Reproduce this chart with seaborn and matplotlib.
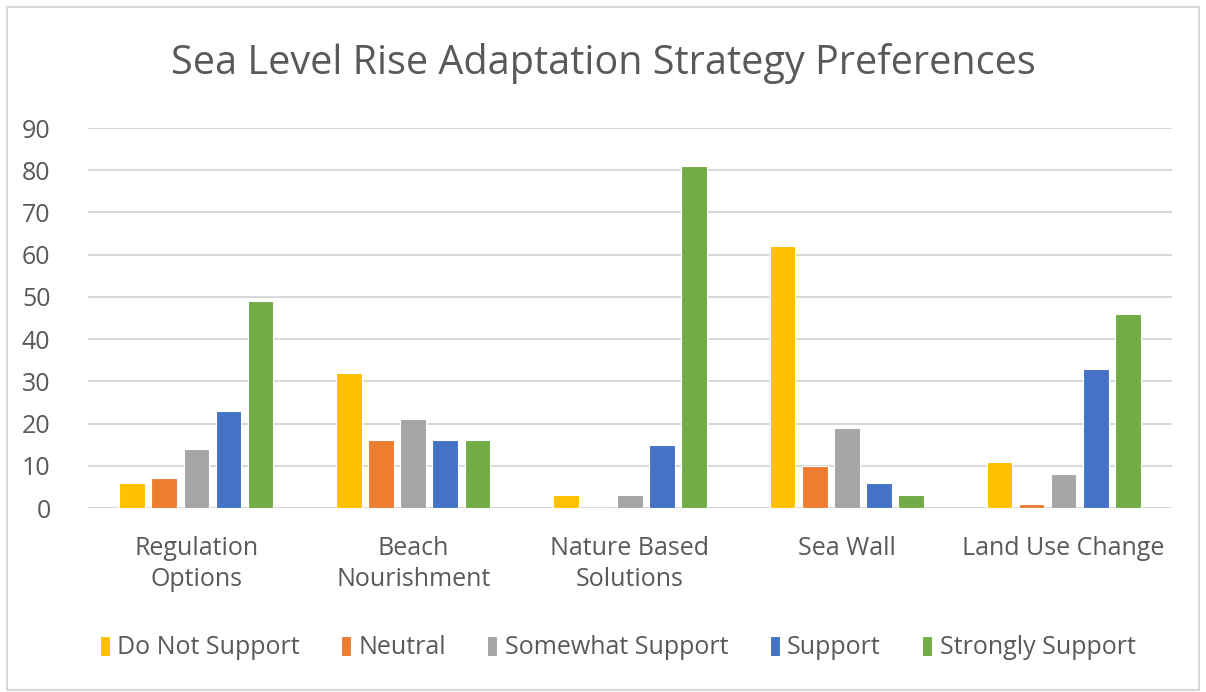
import matplotlib
matplotlib.use("Agg")
import numpy as np
import pandas as pd
import matplotlib.pyplot as plt
import seaborn as sns
from matplotlib.patches import Rectangle

# data
categories = ["Regulation\nOptions", "Beach\nNourishment", "Nature Based\nSolutions",
              "Sea Wall", "Land Use Change"]
responses = ["Do Not Support", "Neutral", "Somewhat Support", "Support", "Strongly Support"]
do_not_support = [6, 32, 3, 62, 11]
neutral = [7, 16, 0, 10, 1]
somewhat_support = [14, 21, 3, 19, 8]
support = [23, 16, 15, 6, 33]
strongly_support = [49, 16, 81, 3, 46]

colors = ["#FFC000", "#ED7D31", "#A5A5A5", "#4472C4", "#70AD47"]

series = [do_not_support, neutral, somewhat_support, support, strongly_support]
rows = []
for resp, vals in zip(responses, series):
    for cat, v in zip(categories, vals):
        rows.append({"Strategy": cat, "Response": resp, "Count": v})
df = pd.DataFrame(rows)

sns.set_style("white")
plt.rcParams['font.family'] = ['Open Sans', 'DejaVu Sans']
txt = "#595959"

fig = plt.figure(figsize=(12.06, 6.92), dpi=100)
ax = fig.add_axes([88 / 1206, 1 - 508 / 692, (1172 - 88) / 1206, (508 - 128) / 692])

sns.barplot(data=df, x="Strategy", y="Count", hue="Response", order=categories,
            hue_order=responses, palette=colors, saturation=1, width=0.74, gap=0.2,
            edgecolor="white", linewidth=0.8, ax=ax, legend=True)

ax.set_ylim(0, 90)
ax.set_yticks(range(0, 91, 10))
ax.set_xlim(-0.5, 4.5)
ax.yaxis.grid(True, color="#D9D9D9", linewidth=1.5)
ax.set_axisbelow(True)
for s in ax.spines.values():
    s.set_visible(False)
ax.set_xlabel("")
ax.set_ylabel("")
ax.tick_params(axis="both", length=0, labelsize=18, colors=txt)
ax.tick_params(axis="y", pad=27)
ax.tick_params(axis="x", pad=20)
for lab in ax.get_xticklabels():
    lab.set_linespacing(1.35)

fig.text(0.5, 1 - 63 / 692, "Sea Level Rise Adaptation Strategy Preferences",
         ha="center", va="center", fontsize=28.5, color=txt)

handles, labels = ax.get_legend_handles_labels()
ax.legend_.remove()
fig.legend(handles, labels, loc="center", bbox_to_anchor=(0.512, 1 - 648 / 692),
           ncol=5, frameon=False, fontsize=18, labelcolor=txt,
           handlelength=0.4, handleheight=0.9, handletextpad=0.3, columnspacing=1.65)

fig.patches.append(Rectangle((7 / 1206, 2 / 692), 1192 / 1206, 683 / 692,
                             transform=fig.transFigure, fill=False,
                             edgecolor="#D9D9D9", linewidth=1.5))

fig.savefig("out.png", dpi=100)
